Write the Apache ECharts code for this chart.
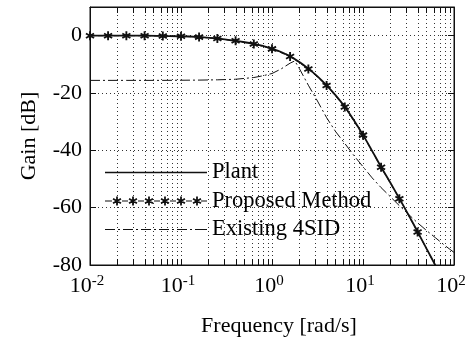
<!DOCTYPE html>
<html><head><meta charset="utf-8">
<script src="https://cdn.jsdelivr.net/npm/echarts@6/dist/echarts.min.js"></script>
<style>html,body{margin:0;padding:0;background:#fff}#c{width:470px;height:344px}</style>
</head><body><div id="c"></div>
<script>
// ---- data ----
const plantFreq = [0.01,0.0158,0.0251,0.0398,0.0631,0.1,0.158,0.251,0.398,0.501,0.631,0.794,1,1.26,1.58,2,2.51,3.16,3.98,5.01,6.31,7.94,10,12.6,15.8,20,25.1,31.6,39.8,50.1,63.1,79.4,100];
const plantGain = [0,0,0,0,-0.1,-0.2,-0.5,-1.0,-1.8,-2.3,-2.9,-3.6,-4.6,-5.7,-7.2,-9.2,-11.5,-14.2,-17.3,-20.8,-24.8,-29.5,-34.6,-40.2,-45.8,-51.3,-56.8,-62.5,-68.4,-74.4,-80.4,-86.4,-92.4];
const propFreq = [0.01,0.0158,0.0251,0.0398,0.0631,0.1,0.158,0.251,0.398,0.631,1,1.58,2.51,3.98,6.31,10,15.8,25.1,39.8,63.1];
const propGain = [0,0,0,0,-0.1,-0.2,-0.5,-1.0,-1.8,-2.9,-4.6,-7.3,-11.6,-17.4,-24.9,-34.7,-45.9,-56.9,-68.5,-80.5];
const sidFreq = [0.01,0.0251,0.0631,0.158,0.251,0.398,0.631,0.794,1,1.26,1.58,1.78,2,2.51,3.16,3.98,5.01,6.31,7.94,10,12.6,15.8,20,25.1,31.6,39.8,50.1,63.1,79.4,100];
const sidGain = [-15.6,-15.6,-15.6,-15.5,-15.4,-15.2,-14.6,-14.0,-13.2,-11.6,-9.6,-8.8,-11.5,-17.3,-22.8,-28.6,-33.5,-37.6,-41.8,-45.7,-49.6,-53.0,-56.2,-59.3,-62.3,-65.3,-68.0,-70.6,-73.2,-75.6];
const seriesNames = ['Plant','Proposed Method','Existing 4SID'];
const xMajorTicks = [0.01,0.1,1,10,100];
const xMajorExp = ['-2','-1','0','1','2'];
const xAllTicks = [0.01,0.02,0.03,0.04,0.05,0.06,0.07,0.08,0.09,0.1,0.2,0.3,0.4,0.5,0.6,0.7,0.8,0.9,1,2,3,4,5,6,7,8,9,10,20,30,40,50,60,70,80,90,100];
const yTicks = [-80,-60,-40,-20,0];

// ---- symbols ----
function asterisk(cx, cy, r, h) {
  let p = '';
  [0, 60, 120].forEach(function (deg) {
    const t = deg * Math.PI / 180;
    const dx = Math.sin(t), dy = -Math.cos(t), nx = Math.cos(t), ny = Math.sin(t);
    const pts = [[cx + r*dx + h*nx, cy + r*dy + h*ny],[cx + r*dx - h*nx, cy + r*dy - h*ny],
                 [cx - r*dx - h*nx, cy - r*dy - h*ny],[cx - r*dx + h*nx, cy - r*dy + h*ny]];
    p += 'M' + pts.map(q => q[0].toFixed(2) + ' ' + q[1].toFixed(2)).join('L') + 'Z';
  });
  return p;
}
function rect(x0, x1, cy, h) { return 'M' + x0 + ' ' + (cy-h) + 'L' + x1 + ' ' + (cy-h) + 'L' + x1 + ' ' + (cy+h) + 'L' + x0 + ' ' + (cy+h) + 'Z'; }
const starSym = 'path://' + asterisk(10, 10, 10, 2);
const W = 102, CY = 7, LH = 0.55;
const iconPlant = 'path://' + rect(0, W, CY, 0.75);
let ip = '';
[[0,7],[17,23],[33,39],[49,55],[65,71],[81,87],[96,W]].forEach(s => { ip += rect(s[0], s[1], CY, LH); });
[12,28,44,60,76,92].forEach(x => { ip += asterisk(x, CY, 4.6, 0.9); });
const iconProp = 'path://' + ip;
let is = '';
[[0,10],[13,15],[18,28],[31,33],[36,46],[49,51],[54,64],[67,69],[72,82],[85,87],[90,W]].forEach(s => { is += rect(s[0], s[1], CY, LH); });
const iconSid = 'path://' + is;

const serif = 'Liberation Serif';
const ink = '#111';
function zip(a, b) { return a.map((v, i) => [v, b[i]]); }

const chart = echarts.init(document.getElementById('c'), null, {renderer: 'canvas'});
const xBase = {
  type: 'log', logBase: 10, min: 0.01, max: 100,
  axisLine: {show: true, onZero: false, lineStyle: {color: ink, width: 1}},
  axisTick: {show: true, inside: true, length: 6, customValues: xAllTicks, lineStyle: {color: ink, width: 1}},
  minorTick: {show: false}
};
const yBase = {
  type: 'value', min: -80, max: 10, interval: 20,
  axisLine: {show: true, onZero: false, lineStyle: {color: ink, width: 1}},
  axisTick: {show: true, inside: true, length: 6, customValues: yTicks, lineStyle: {color: ink, width: 1}}
};
chart.setOption({
  animation: false,
  backgroundColor: '#fff',
  grid: {left: 90, right: 16, top: 7, bottom: 79, show: true, borderColor: ink, borderWidth: 1},
  xAxis: [
    Object.assign({}, xBase, {
      position: 'bottom',
      name: 'Frequency [rad/s]', nameLocation: 'middle', nameGap: 50,
      nameTextStyle: {fontFamily: serif, fontSize: 22, color: '#000', padding: [0, 0, 0, 14]},
      axisLabel: {
        show: true, margin: 9, customValues: xMajorTicks,
        formatter: function (v) {
          let k = 0;
          xMajorTicks.forEach((t, i) => { if (Math.abs(Math.log10(v) - Math.log10(t)) < 1e-6) k = i; });
          return '{b|10}{s|' + xMajorExp[k] + '}';
        },
        padding: [0, 6, 0, 0],
        rich: {
          b: {fontFamily: serif, fontSize: 22, color: '#000', lineHeight: 24},
          s: {fontFamily: serif, fontSize: 15, color: '#000', verticalAlign: 'top', lineHeight: 15}
        }
      },
      splitLine: {show: true, lineStyle: {color: '#333', width: 1, type: [1, 3]}}
    }),
    Object.assign({}, xBase, {position: 'top', axisLabel: {show: false}, splitLine: {show: false}})
  ],
  yAxis: [
    Object.assign({}, yBase, {
      position: 'left',
      name: 'Gain [dB]', nameLocation: 'middle', nameGap: 50,
      nameTextStyle: {fontFamily: serif, fontSize: 22, color: '#000'},
      axisLabel: {show: true, margin: 8, customValues: yTicks, fontFamily: serif, fontSize: 22, color: '#000'},
      splitLine: {show: true, lineStyle: {color: '#333', width: 1, type: [1, 3]}}
    }),
    Object.assign({}, yBase, {position: 'right', axisLabel: {show: false}, splitLine: {show: false}})
  ],
  legend: {
    show: true, orient: 'vertical', left: 100, top: 156,
    itemWidth: W, itemHeight: 14, itemGap: 5.5, itemTextGap: 3,
    selectedMode: false,
    itemStyle: {color: ink, borderWidth: 0},
    textStyle: {fontFamily: serif, fontSize: 22.5, color: '#000'},
    data: [
      {name: seriesNames[0], icon: iconPlant},
      {name: seriesNames[1], icon: iconProp},
      {name: seriesNames[2], icon: iconSid}
    ]
  },
  series: [
    {
      name: seriesNames[2], type: 'line', data: zip(sidFreq, sidGain), symbol: 'none', clip: true,
      itemStyle: {color: ink}, lineStyle: {color: ink, width: 1, type: [10, 3, 2, 3]}, z: 2
    },
    {
      name: seriesNames[0], type: 'line', data: zip(plantFreq, plantGain), symbol: 'none', clip: true, smooth: 0.3,
      itemStyle: {color: ink}, lineStyle: {color: ink, width: 1.8}, z: 3
    },
    {
      name: seriesNames[1], type: 'line', data: zip(propFreq, propGain), symbol: starSym, symbolSize: 9, clip: true,
      itemStyle: {color: ink}, lineStyle: {color: ink, width: 1, type: [5, 3]}, z: 4
    }
  ]
});
</script>
</body></html>
